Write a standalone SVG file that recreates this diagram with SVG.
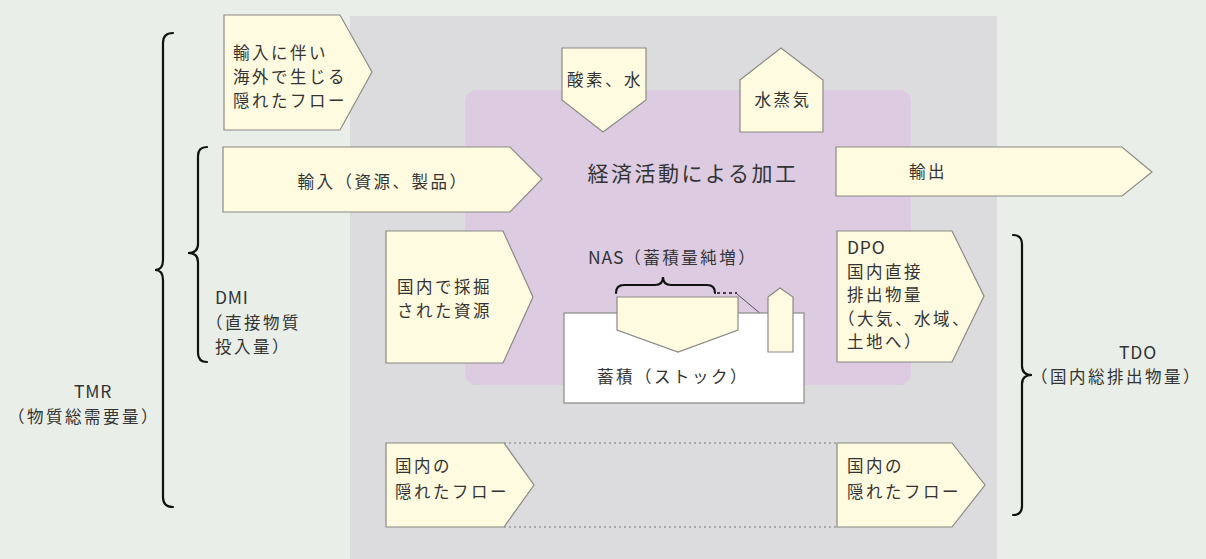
<svg xmlns="http://www.w3.org/2000/svg" width="1206" height="559" viewBox="0 0 1206 559">
<style>
.flow{fill:#fffbe0;stroke:#8a8a86;stroke-width:1.2}
.stock{fill:#ffffff;stroke:#8a8a86;stroke-width:1.2}
.t{font-family:"Noto Sans CJK JP","Noto Sans",sans-serif;font-size:16.5px;letter-spacing:2.5px;fill:#333}
.big{font-size:21px;letter-spacing:2.5px}
.lat{font-size:17.5px;letter-spacing:0.8px}
.m{text-anchor:middle}
.brace{fill:none;stroke:#111;stroke-width:2.2;stroke-linecap:round}
.dot{fill:none;stroke:#7a7a7a;stroke-width:1.2;stroke-dasharray:2 3}
</style>
<rect x="0" y="0" width="1206" height="559" fill="#e9efe8"/>
<g id="region-economy">
<rect x="350" y="16" width="647" height="543" fill="#dcdbdd"/>
<rect x="465" y="90" width="446" height="295" rx="12" fill="#dccbe1"/>
</g>
<g id="connectors">
<path class="brace" d="M173,33 Q163,33 163,43 L163,260 Q163,270 155,270 Q163,270 163,280 L163,497 Q163,507 173,507"/>
<path class="brace" d="M207,147 Q198,147 198,156 L198,244 Q198,253 188,253 Q198,253 198,262 L198,353 Q198,362 207,362"/>
<path class="brace" d="M1013,235 Q1022,235 1022,244 L1022,366 Q1022,375 1032,375 Q1022,375 1022,384 L1022,506 Q1022,515 1013,515"/>
<path class="brace" d="M616,293 Q616,285 624,285 L655,285 Q663,285 663,277 Q663,285 671,285 L707,285 Q715,285 715,293"/>
<line x1="717" y1="293" x2="737" y2="293" stroke="#111" stroke-width="1.5" stroke-dasharray="3 3"/>
<line x1="737" y1="294" x2="780" y2="330" stroke="#555" stroke-width="1"/>
<line class="dot" x1="504" y1="443" x2="837" y2="443"/>
<line class="dot" x1="504" y1="527" x2="837" y2="527"/>
</g>
<g id="hidden-flow-abroad">
<polygon class="flow" points="224,15 340,15 372,72 340,130 224,130"/>
<text class="t" x="233" y="59">輸入に伴い</text>
<text class="t" x="233" y="83">海外で生じる</text>
<text class="t" x="233" y="107">隠れたフロー</text>
</g>
<g id="import">
<polygon class="flow" points="223,147 510,147 542,179 510,212 223,212"/>
<text class="t m" x="383" y="188">輸入（資源、製品）</text>
</g>
<g id="oxygen-water">
<polygon class="flow" points="562,48 646,48 646,100 603,132 562,100"/>
<text class="t m" x="605" y="86">酸素、水</text>
</g>
<g id="vapor">
<polygon class="flow" points="740,80 781,48 823,80 823,132 740,132"/>
<text class="t m" x="783" y="106">水蒸気</text>
</g>
<g id="processing">
<text class="t big m" x="693" y="181">経済活動による加工</text>
</g>
<g id="export">
<polygon class="flow" points="836,147 1122,147 1152,172 1122,196 836,196"/>
<text class="t m" x="928" y="178">輸出</text>
</g>
<g id="domestic-extraction">
<polygon class="flow" points="386,231 503,231 533,297 503,363 386,363"/>
<text class="t" x="397" y="293">国内で採掘</text>
<text class="t" x="397" y="317">された資源</text>
</g>
<g id="stock">
<rect class="stock" x="564" y="313" width="240" height="90"/>
<polygon class="flow" points="617,297 738,297 738,330 678,352 617,330"/>
<polygon class="flow" points="768,297 780,288 793,297 793,352 768,352"/>
<text class="t m" x="673" y="383">蓄積（ストック）</text>
</g>
<g id="nas">
<text class="t" x="588" y="264"><tspan style="font-size:17.5px;letter-spacing:0.8px">NAS</tspan>（蓄積量純増）</text>
</g>
<g id="dpo">
<polygon class="flow" points="837,231 952,231 984,296 952,362 837,362"/>
<text class="t lat" x="847" y="254">DPO</text>
<text class="t" x="847" y="278">国内直接</text>
<text class="t" x="847" y="301">排出物量</text>
<text class="t" x="838" y="325">（大気、水域、</text>
<text class="t" x="847" y="348">土地へ）</text>
</g>
<g id="domestic-hidden-in">
<polygon class="flow" points="386,443 504,443 534,485 504,527 386,527"/>
<text class="t" x="395" y="472">国内の</text>
<text class="t" x="395" y="498">隠れたフロー</text>
</g>
<g id="domestic-hidden-out">
<polygon class="flow" points="837,443 952,443 985,485 952,527 837,527"/>
<text class="t" x="847" y="472">国内の</text>
<text class="t" x="847" y="498">隠れたフロー</text>
</g>
<g id="dmi">
<text class="t lat" x="215" y="304">DMI</text>
<text class="t" x="206" y="329">（直接物質</text>
<text class="t" x="215" y="353">投入量）</text>
</g>
<g id="tmr">
<text class="t lat m" x="93" y="398">TMR</text>
<text class="t m" x="84" y="423">（物質総需要量）</text>
</g>
<g id="tdo">
<text class="t lat m" x="1138" y="359">TDO</text>
<text class="t" x="1031" y="383">（国内総排出物量）</text>
</g>
</svg>
